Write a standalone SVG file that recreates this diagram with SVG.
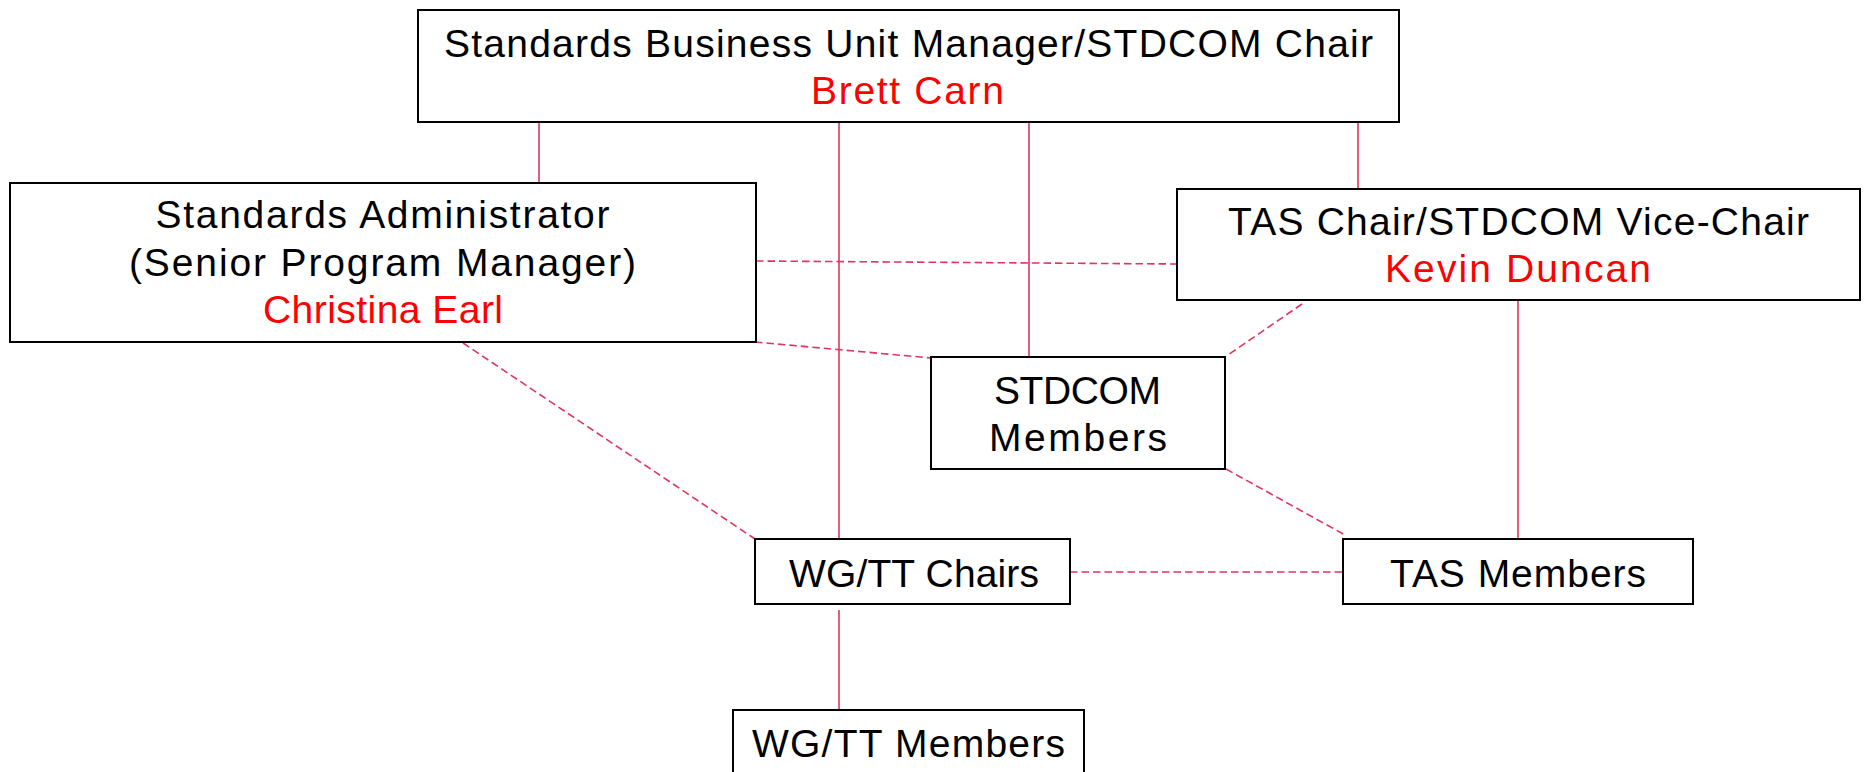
<svg xmlns="http://www.w3.org/2000/svg" width="1867" height="772" viewBox="0 0 1867 772">
<style>
.box{fill:#ffffff;stroke:#000000;stroke-width:2}
.t{font-family:"Liberation Sans",Arial,sans-serif;font-size:39px;fill:#000000;text-anchor:middle}
.n{fill:#ff0000}
.solid{stroke:#e0345e;stroke-width:1.6;fill:none}
.dash{stroke:#e0345e;stroke-width:1.6;fill:none;stroke-dasharray:7.5 4}
</style>
<rect x="0" y="0" width="1867" height="772" fill="#ffffff"/>
<g id="connectors">
<line class="solid" x1="539" y1="123" x2="539" y2="183"/>
<line class="solid" x1="839" y1="123" x2="839" y2="539"/>
<line class="solid" x1="1029" y1="123" x2="1029" y2="357"/>
<line class="solid" x1="1358" y1="123" x2="1358" y2="189"/>
<line class="solid" x1="1518" y1="301" x2="1518" y2="539"/>
<line class="solid" x1="839" y1="610" x2="839" y2="710"/>
<line class="dash" x1="756" y1="261" x2="1177" y2="264"/>
<line class="dash" x1="755" y1="342" x2="931" y2="358"/>
<line class="dash" x1="463" y1="343" x2="755" y2="539"/>
<line class="dash" x1="1302" y1="304" x2="1228" y2="355"/>
<line class="dash" x1="1226" y1="469" x2="1345" y2="535"/>
<line class="dash" x1="1070" y1="572" x2="1343" y2="572"/>
</g>
<g id="node-sbum">
<rect class="box" x="418" y="10" width="981" height="112"/>
<text class="t" x="908.5" y="57" textLength="929" lengthAdjust="spacing">Standards Business Unit Manager/STDCOM Chair</text>
<text class="t n" x="907.5" y="104" textLength="193" lengthAdjust="spacing">Brett Carn</text>
</g>
<g id="node-admin">
<rect class="box" x="10" y="183" width="746" height="159"/>
<text class="t" x="382.5" y="228" textLength="454" lengthAdjust="spacing">Standards Administrator</text>
<text class="t" x="382.5" y="276" textLength="507" lengthAdjust="spacing">(Senior Program Manager)</text>
<text class="t n" x="383" y="323" textLength="240" lengthAdjust="spacing">Christina Earl</text>
</g>
<g id="node-taschair">
<rect class="box" x="1177" y="189" width="683" height="111"/>
<text class="t" x="1518.5" y="235" textLength="581" lengthAdjust="spacing">TAS Chair/STDCOM Vice-Chair</text>
<text class="t n" x="1518" y="282" textLength="266" lengthAdjust="spacing">Kevin Duncan</text>
</g>
<g id="node-stdcom">
<rect class="box" x="931" y="357" width="294" height="112"/>
<text class="t" x="1077.5" y="404" textLength="167" lengthAdjust="spacing">STDCOM</text>
<text class="t" x="1078" y="451" textLength="178" lengthAdjust="spacing">Members</text>
</g>
<g id="node-wgchairs">
<rect class="box" x="755" y="539" width="315" height="65"/>
<text class="t" x="914" y="587" textLength="250" lengthAdjust="spacing">WG/TT Chairs</text>
</g>
<g id="node-tasmembers">
<rect class="box" x="1343" y="539" width="350" height="65"/>
<text class="t" x="1518" y="587" textLength="256" lengthAdjust="spacing">TAS Members</text>
</g>
<g id="node-wgmembers">
<rect class="box" x="733" y="710" width="351" height="75"/>
<text class="t" x="908.5" y="757" textLength="313" lengthAdjust="spacing">WG/TT Members</text>
</g>
</svg>
